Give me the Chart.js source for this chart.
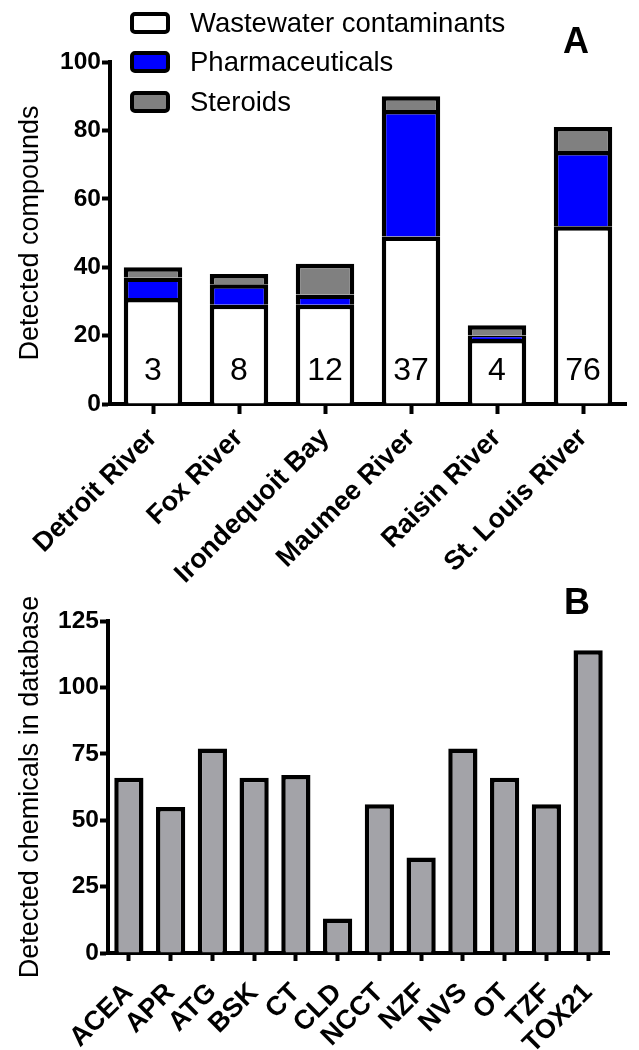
<!DOCTYPE html>
<html>
<head>
<meta charset="utf-8">
<script src="https://cdn.jsdelivr.net/npm/chart.js@4.4.1/dist/chart.umd.min.js"></script>
<style>
  html, body { margin: 0; padding: 0; background: #fff; }
  #figure { position: relative; width: 639px; height: 1050px; }
  .panel { position: absolute; left: 0; width: 639px; }
  #panelA { top: 0; height: 600px; z-index: 2; }
  #panelB { top: 580px; height: 470px; z-index: 1; }
</style>
</head>
<body>
<div id="figure">
  <div class="panel" id="panelA"><canvas id="chartA"></canvas></div>
  <div class="panel" id="panelB"><canvas id="chartB"></canvas></div>
</div>
<script>
/* DATOS – panel A (compuestos detectados por sitio) */
const sites = ['Detroit River', 'Fox River', 'Irondequoit Bay', 'Maumee River', 'Raisin River', 'St. Louis River'];
const wastewater      = [31, 29, 29, 49, 19, 52];
const pharmaceuticals = [6, 6, 3, 37, 1, 22];
const steroids        = [3, 3, 9, 4, 3, 7];
const sampleCounts    = ['3', '8', '12', '37', '4', '76'];
const ticksA          = [0, 20, 40, 60, 80, 100];

/* DATOS – panel B (químicos detectados en cada base de datos) */
const assays    = ['ACEA', 'APR', 'ATG', 'BSK', 'CT', 'CLD', 'NCCT', 'NZF', 'NVS', 'OT', 'TZF', 'TOX21'];
const chemicals = [66, 55, 77, 66, 67, 13, 56, 36, 77, 66, 56, 114];
const ticksB    = [0, 25, 50, 75, 100, 125];

const COLORS = {
  white: '#ffffff',
  blue:  '#0000ff',
  gray:  '#808080',
  light: '#a3a3a8',
  ink:   '#000000',
};
const FONT = "'Liberation Sans', Arial, sans-serif";

Chart.defaults.font.family = FONT;
Chart.defaults.color = COLORS.ink;

// Ejes comunes: línea negra gruesa, marcas hacia afuera, sin cuadrícula
function axisX(height, tickLen, pad) {
  return {
    stacked: true,
    offset: true,
    grid: { display: true, drawOnChartArea: false, offset: false, tickLength: tickLen, tickWidth: 4, tickColor: COLORS.ink, color: COLORS.ink },
    border: { display: true, color: COLORS.ink, width: 4 },
    ticks: { font: { size: 27, weight: 'bold' }, color: COLORS.ink, minRotation: 45, maxRotation: 45, padding: pad, autoSkip: false },
    afterFit: (s) => { s.height = height; },
  };
}

function axisY(ticks, width, title) {
  return {
    stacked: true,
    min: ticks[0],
    max: ticks[ticks.length - 1],
    afterBuildTicks: (s) => { s.ticks = ticks.map(v => ({ value: v })); },
    grid: { display: true, drawOnChartArea: false, tickLength: 8, tickWidth: 4, tickColor: COLORS.ink, color: COLORS.ink },
    border: { display: true, color: COLORS.ink, width: 4 },
    ticks: { font: { size: 24.5, weight: 'bold' }, color: COLORS.ink, padding: 1 },
    title: { display: true, text: title, font: { size: 27 }, color: COLORS.ink, padding: { top: 14, bottom: 0 } },
    afterFit: (s) => { s.width = width; },
  };
}

// Letra del panel (A / B) en la esquina superior derecha
function panelLetter(letter, x, y) {
  return {
    id: 'letter' + letter,
    afterDraw(chart) {
      const ctx = chart.ctx;
      ctx.save();
      ctx.font = `bold 36px ${FONT}`;
      ctx.fillStyle = COLORS.ink;
      ctx.textAlign = 'center';
      ctx.textBaseline = 'middle';
      ctx.fillText(letter, x, y);
      ctx.restore();
    },
  };
}

// Leyenda dentro del área del gráfico, apilada verticalmente
const legendBoxes = {
  id: 'legendBoxes',
  afterDraw(chart) {
    const ctx = chart.ctx;
    const rows = [23, 62, 102];
    ctx.save();
    chart.data.datasets.forEach((ds, i) => {
      const cy = rows[i];
      ctx.beginPath();
      ctx.roundRect(132, cy - 9, 36, 18, 3);
      ctx.fillStyle = ds.backgroundColor;
      ctx.fill();
      ctx.lineWidth = 4;
      ctx.strokeStyle = COLORS.ink;
      ctx.stroke();
      ctx.fillStyle = COLORS.ink;
      ctx.font = `27.5px ${FONT}`;
      ctx.textAlign = 'left';
      ctx.textBaseline = 'middle';
      ctx.fillText(ds.label, 190, cy + 1);
    });
    ctx.restore();
  },
};

// Número de muestras escrito dentro de cada barra
const countLabels = {
  id: 'countLabels',
  afterDatasetsDraw(chart) {
    const { ctx, scales: { x, y } } = chart;
    ctx.save();
    ctx.font = `32px ${FONT}`;
    ctx.fillStyle = COLORS.ink;
    ctx.textAlign = 'center';
    ctx.textBaseline = 'middle';
    sampleCounts.forEach((t, i) => {
      ctx.fillText(t, x.getPixelForValue(i), y.getPixelForValue(9.5));
    });
    ctx.restore();
  },
};

/* PANEL A – barras apiladas */
new Chart(document.getElementById('chartA'), {
  type: 'bar',
  data: {
    labels: sites,
    datasets: [
      { label: 'Wastewater contaminants', data: wastewater, backgroundColor: COLORS.white },
      { label: 'Pharmaceuticals', data: pharmaceuticals, backgroundColor: COLORS.blue },
      { label: 'Steroids', data: steroids, backgroundColor: COLORS.gray },
    ],
  },
  options: {
    responsive: true,
    maintainAspectRatio: false,
    animation: false,
    datasets: { bar: { borderColor: COLORS.ink, borderWidth: 4.5, barPercentage: 0.68, categoryPercentage: 1 } },
    layout: { padding: { top: 62, right: 13, bottom: 0, left: 0 } },
    plugins: { legend: { display: false }, tooltip: { enabled: false } },
    scales: {
      x: axisX(196, 10, 8),
      y: axisY(ticksA, 110, 'Detected compounds'),
    },
  },
  plugins: [legendBoxes, countLabels, panelLetter('A', 576, 43)],
});

/* PANEL B – barras simples */
new Chart(document.getElementById('chartB'), {
  type: 'bar',
  data: {
    labels: assays,
    datasets: [
      { label: 'Detected chemicals', data: chemicals, backgroundColor: COLORS.light },
    ],
  },
  options: {
    responsive: true,
    maintainAspectRatio: false,
    animation: false,
    datasets: { bar: { borderColor: COLORS.ink, borderWidth: 4.5, barPercentage: 0.7, categoryPercentage: 1 } },
    layout: { padding: { top: 41, right: 30, bottom: 0, left: 0 } },
    plugins: { legend: { display: false }, tooltip: { enabled: false } },
    scales: {
      x: axisX(97, 8, 16),
      y: axisY(ticksB, 108, 'Detected chemicals in database'),
    },
  },
  plugins: [panelLetter('B', 577, 24)],
});
</script>
</body>
</html>
